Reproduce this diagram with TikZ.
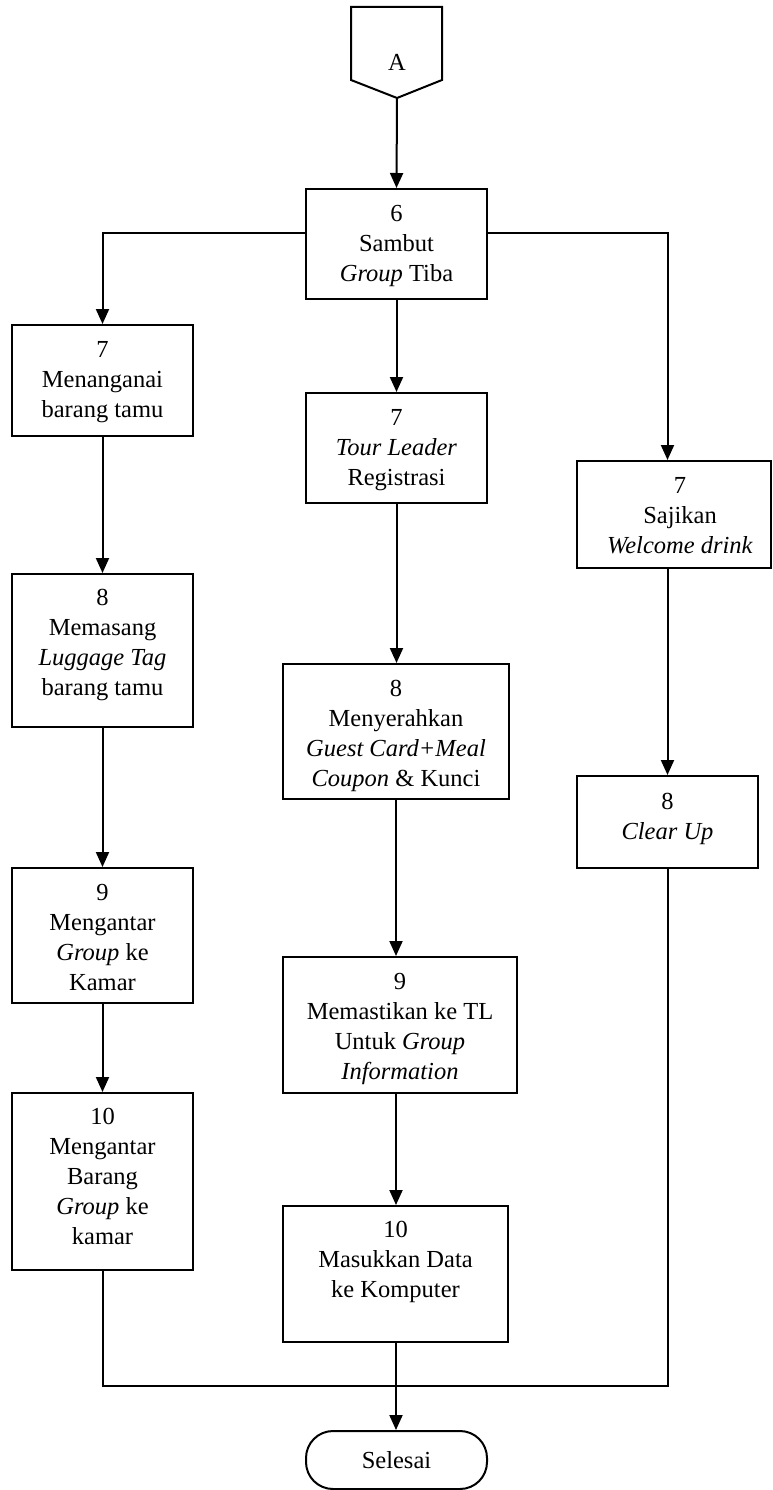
\documentclass[tikz,border=0pt]{standalone}
\usepackage{fontspec}
\setmainfont{Liberation Serif}
\usetikzlibrary{arrows.meta}
\begin{document}
\begin{tikzpicture}[x=1pt,y=-1pt,
  box/.style={draw, line width=2pt, inner sep=0pt},
  boxtext/.style={align=center, inner sep=0pt, anchor=north,
    font=\fontsize{24.5}{30}\selectfont},
  flow/.style={line width=2pt, -{Triangle[length=15pt,width=13pt]}},
  link/.style={line width=2pt}
]
\useasboundingbox (0,0) rectangle (773,1490);

% off-page connector
\draw[line width=2pt, line join=miter] (351,7) -- (442,7) -- (442,80) -- (397,98) -- (351,80) -- cycle;
\node[font=\fontsize{24.5}{30}\selectfont, inner sep=0pt] (A) at (397,62) {A};
\coordinate (Atip) at (397,98);

% process boxes
\node[box, minimum width=181pt, minimum height=110pt] (b6)  at (396.5,244)  {};
\node[box, minimum width=181pt, minimum height=111pt] (b7L) at (102.5,380.5) {};
\node[box, minimum width=181pt, minimum height=153pt] (b8L) at (102.5,650.5) {};
\node[box, minimum width=181pt, minimum height=135pt] (b9L) at (102.5,935.5) {};
\node[box, minimum width=181pt, minimum height=177pt] (b10L) at (102.5,1181.5) {};
\node[box, minimum width=181pt, minimum height=110pt] (b7M) at (396.5,448)  {};
\node[box, minimum width=226pt, minimum height=135pt] (b8M) at (396,731.5)  {};
\node[box, minimum width=234pt, minimum height=136pt] (b9M) at (400,1025)   {};
\node[box, minimum width=225pt, minimum height=136pt] (b10M) at (395.5,1274) {};
\node[box, minimum width=194pt, minimum height=107pt] (b7R) at (674,514.5)  {};
\node[box, minimum width=181pt, minimum height=92pt]  (b8R) at (667.5,822)  {};
\node[box, minimum width=181pt, minimum height=58pt, rounded corners=27pt] (end) at (396.5,1460) {};

% box texts, hung from the top edge of each box
\node[boxtext] (t6)  at ([yshift=-17pt]b6.north)  {6\\Sambut\\\textit{Group} Tiba};
\node[boxtext] (t7L) at ([yshift=-17pt]b7L.north) {7\\Menanganai\\barang tamu};
\node[boxtext] (t8L) at ([yshift=-16pt]b8L.north) {8\\Memasang\\\textit{Luggage Tag}\\barang tamu};
\node[boxtext] (t9L) at ([yshift=-17pt]b9L.north) {9\\Mengantar\\\textit{Group} ke\\Kamar};
\node[boxtext] (t10L) at ([yshift=-16pt]b10L.north) {10\\Mengantar\\Barang\\\textit{Group} ke\\kamar};
\node[boxtext] (t7M) at ([yshift=-17pt]b7M.north) {7\\\textit{Tour Leader}\\Registrasi};
\node[boxtext] (t8M) at ([yshift=-17pt]b8M.north) {8\\Menyerahkan\\\textit{Guest Card+Meal}\\\textit{Coupon} \& Kunci};
\node[boxtext] (t9M) at ([yshift=-17pt]b9M.north) {9\\Memastikan ke TL\\Untuk \textit{Group}\\\textit{Information}};
\node[boxtext] (t10M) at ([yshift=-16pt]b10M.north) {10\\Masukkan Data\\ke Komputer};
\node[boxtext] (t7R) at ([xshift=6pt,yshift=-17pt]b7R.north) {7\\Sajikan\\\textit{Welcome drink}};
\node[boxtext] (t8R) at ([yshift=-18pt]b8R.north) {8\\\textit{Clear Up}};
\node[font=\fontsize{24.5}{30}\selectfont, inner sep=0pt] (tend) at (end.center) {Selesai};

% branch and join points
\coordinate (split) at (396.5,233);
\coordinate (join) at (396,1386);

% connectors
\draw[flow] (Atip) -- (b6.north);
\draw[flow] (b6.west |- split) -- (split -| b7L) -- (b7L.north);
\draw[flow] (b6.east |- split) -- (split -| b8R) -- (b7R.north -| b8R);
\draw[flow] (b6.south) -- (b7M.north);
\draw[flow] (b7M.south) -- (b8M.north -| b7M);
\draw[flow] (b8M.south) -- (b9M.north -| b8M);
\draw[flow] (b9M.south -| b8M) -- (b10M.north -| b8M);
\draw[flow] (b7L.south) -- (b8L.north);
\draw[flow] (b8L.south) -- (b9L.north);
\draw[flow] (b9L.south) -- (b10L.north);
\draw[flow] (b7R.south -| b8R) -- (b8R.north);
\draw[link] (b10L.south) -- (b10L.south |- join) -- (join -| b8R) -- (b8R.south);
\draw[flow] (b10M.south -| b8M) -- (end.north -| b8M);
\end{tikzpicture}
\end{document}
